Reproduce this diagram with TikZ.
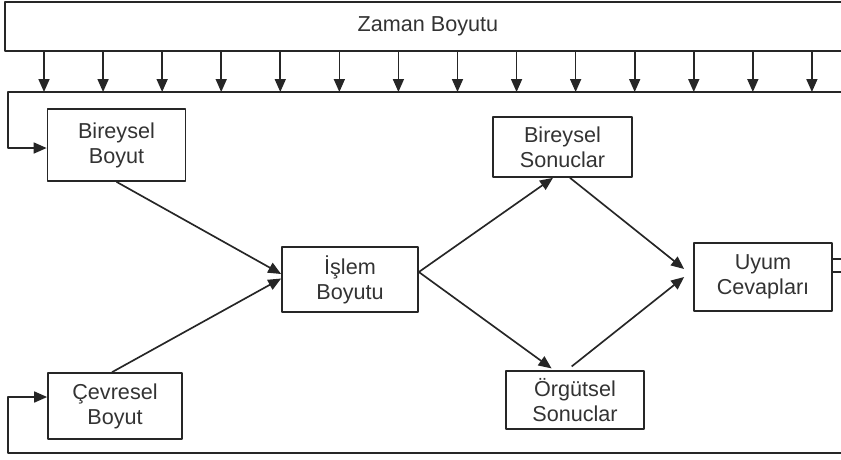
\documentclass[tikz,border=0pt]{standalone}
\usepackage{fontspec}
\setmainfont{Liberation Sans}
\usetikzlibrary{arrows.meta,positioning}
\begin{document}
\begin{tikzpicture}[x=0.2mm, y=-0.2mm, line join=round, >={Triangle[length=2.6mm,width=2.2mm]},
		font=\fontsize{12.3}{14.2}\selectfont, line width=0.95pt, draw=black!85, text=black!80,
		kutu/.style={draw, align=center, inner sep=0pt, minimum width=#1}]
			\def\ust{51} \def\alt{92} % zaman oklari
			\useasboundingbox (0,0) rectangle (841,459);
			\node[kutu=169.2mm, minimum height=9.8mm] (zb) at (428,26.5) {Zaman Boyutu};
			\node[kutu=27.6mm, minimum height=14.4mm] (bb) at (116.5,145) {Bireysel\\Boyut};
			\node[kutu=26.8mm, minimum height=13.2mm] (cb) at (115,406) {Çevresel\\Boyut};
			\node[kutu=27.2mm, minimum height=13mm] (ib) at (350,279.5) {İşlem\\Boyutu};
			\node[kutu=27.8mm, minimum height=12mm] (bs) at (562.5,147) {Bireysel\\Sonuclar};
			\node[kutu=27.6mm, minimum height=11.6mm] (os) at (575,400) {Örgütsel\\Sonuclar};
			\node[kutu=27.6mm, minimum height=13.6mm] (uc) at (763,277) {Uyum\\Cevapları};
			\foreach \i in {0,...,13}
				\draw[->] (44+59.07*\i,\ust) -- (44+59.07*\i,\alt);
			\draw[->] (841,\alt) -- (8,\alt) |- ([yshift=-0.6mm]bb.west);
			\draw[->] (841,453) -- (8,453) |- ([yshift=1.8mm]cb.west);
			\draw[->] (bb.south) -- ([yshift=1.1mm]ib.west);
			\draw[->] ([xshift=-0.6mm]cb.north) -- ([yshift=0.2mm]ib.west);
			\draw[->] ([yshift=1.5mm]ib.east) -- ([xshift=-1.9mm]bs.south);
			\draw[->, shorten >=0.6mm] ([yshift=1.5mm]ib.east) -- ([xshift=-4.2mm]os.north);
			\draw[->] ([xshift=1.5mm]bs.south) -- ([xshift=-1.8mm,yshift=1.6mm]uc.west);
			\draw[->, shorten <=1.2mm] ([xshift=-1.6mm]os.north) -- ([xshift=-1.8mm]uc.west);
			\draw ([yshift=3.6mm]uc.east) -- ++(9,0);
			\draw ([yshift=1mm]uc.east) -- ++(9,0);
		\end{tikzpicture}
\end{document}
